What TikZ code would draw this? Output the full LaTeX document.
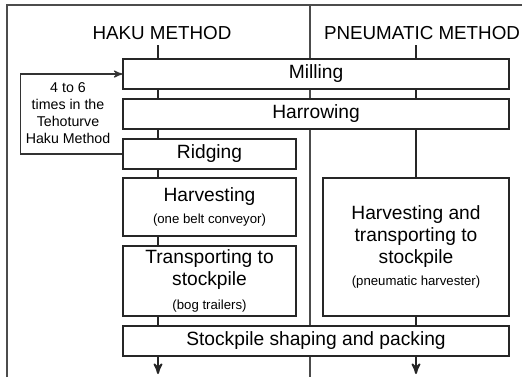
\documentclass[tikz,border=0pt]{standalone}
\usepackage{fontspec}
\setmainfont{Liberation Sans}
\usetikzlibrary{positioning, arrows}
\tikzset{
	>=stealth', % arrow heads
	stage/.style={draw=black!85, line width=0.6pt, fill=white, align=center, inner sep=0pt, font=\fontsize{9.6}{10.9}\selectfont}, % one step box
	flow/.style={line width=0.9pt, draw=black!85}, % main line of each method
	frame/.style={line width=0.6pt, draw=black!70}, % page frame and divider
	title/.style={font=\fontsize{9.4}{11}\selectfont},
	loopnote/.style={align=center, inner sep=0pt, font=\fontsize{7.1}{8.4}\selectfont},
}
\newcommand{\subnote}[1]{{\fontsize{6.6}{8}\selectfont #1}}

\begin{document}
\begin{tikzpicture}[x=0.5pt, y=-0.5pt]
	\useasboundingbox (0,0) rectangle (522,377);

	% frame and divider
	\draw[frame] (7,377) -- (7,5) -- (522,5);
	\draw[frame] (310,5) -- (310,377);

	% titles
	\node[title] (hakutitle) at (162,33) {HAKU METHOD};
	\node[title] (pneutitle) at (422,33) {PNEUMATIC METHOD};

	% main lines, drawn under the boxes
	\coordinate (hakutop) at (158,45);
	\coordinate (hakuend) at (158,374);
	\coordinate (pneutop) at (416,45);
	\coordinate (pneuend) at (416,374);
	\draw[flow,->] (hakutop) -- (hakuend);
	\draw[flow,->] (pneutop) -- (pneuend);

	% shared steps
	\node[stage, minimum width=193pt, minimum height=15pt] (milling) at (316,74) {Milling};
	\node[stage, minimum width=193pt, minimum height=15pt] (harrowing) at (316,114) {Harrowing};

	% haku method
	\node[stage, minimum width=86.5pt, minimum height=15pt] (ridging) at (209.5,154) {Ridging};
	\node[stage, minimum width=86.5pt, minimum height=29pt] (harvesting) at (209.5,207) {Harvesting\\\subnote{(one belt conveyor)}};
	\node[stage, minimum width=86.5pt, minimum height=35pt] (transport) at (209.5,281) {Transporting to\\stockpile\\[1pt]\subnote{(bog trailers)}};

	% pneumatic method
	\node[stage, minimum width=93pt, minimum height=69pt] (pneuharvest) at (416,247) {Harvesting and\\transporting to\\stockpile\\\subnote{(pneumatic harvester)}};

	% shared last step
	\node[stage, minimum width=193pt, minimum height=15pt] (stockpile) at (316,341) {Stockpile shaping and packing};

	% repeat loop
	\draw[line width=0.6pt, draw=black!80, ->] (ridging.west) -- ++(-102,0) |- (milling.west);
	\node[loopnote] (looptext) at (68,113) {4 to 6\\times in the\\Tehoturve\\Haku Method};
\end{tikzpicture}
\end{document}
